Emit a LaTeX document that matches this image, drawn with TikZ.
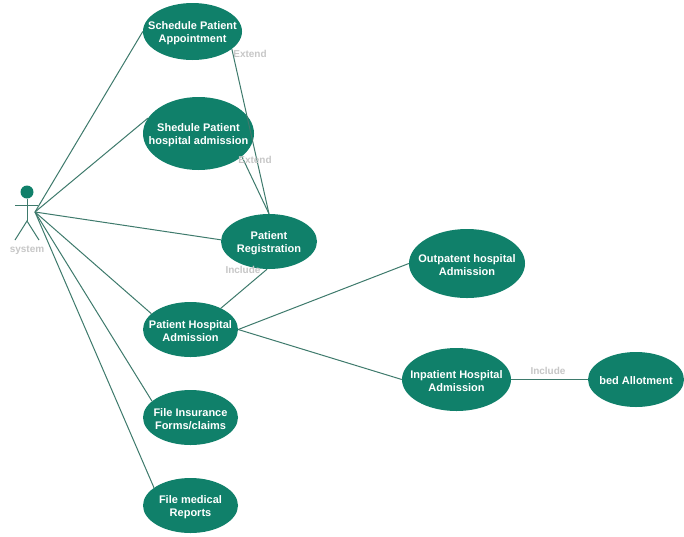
\documentclass[tikz,border=0pt]{standalone}
\usepackage{fontspec}
\setmainfont{Liberation Sans}
\usetikzlibrary{shapes.geometric}
\definecolor{ucgreen}{RGB}{16,128,106}
\definecolor{uclink}{RGB}{62,122,108}
\tikzset{
    uc case/.style={
        ellipse,
        fill=ucgreen,
        text=white,
        align=center,
        inner xsep=-14pt,
        inner ysep=0pt,
        text height=25pt,
        font=\fontsize{11}{13}\selectfont\bfseries
    },
    uc link/.style={uclink, line width=1pt},
    uc label/.style={
        text=black!22,
        inner sep=0pt,
        font=\fontsize{10}{12}\selectfont\bfseries
    }
}
\begin{document}
\begin{tikzpicture}[x=1pt,y=-1pt]
    \useasboundingbox[fill=white] (0,0) rectangle (684,536);

    % actor
    \node[circle, fill=ucgreen, minimum size=13pt, inner sep=0pt] (head) at (27,192) {};
    \coordinate (hip) at (27,221);
    \coordinate (armL) at (15,205);
    \coordinate (armR) at (38,205);
    \coordinate (legL) at (15,240);
    \coordinate (legR) at (39,240);
    \coordinate (hub) at (35,212);
    \draw[uc link] (head) -- (hip);
    \draw[uc link] (armL) -- (armR);
    \draw[uc link] (legL) -- (hip) -- (legR);
    \node[uc label] (actor) at (27,250) {system};

    % use cases
    \node[uc case, minimum width=99pt, minimum height=57pt] (appoint) at (192.5,31.5) {Schedule Patient\\Appointment};
    \node[uc case, minimum width=111pt, minimum height=73pt] (shedule) at (198.5,133.5) {Shedule Patient\\hospital admission};
    \node[uc case, minimum width=96pt, minimum height=55pt] (regist) at (269,241.5) {Patient\\Registration};
    \node[uc case, minimum width=95pt, minimum height=55pt] (hospital) at (190.5,329.5) {Patient Hospital\\Admission};
    \node[uc case, minimum width=95pt, minimum height=55pt] (insure) at (190.5,417.5) {File Insurance\\Forms/claims};
    \node[uc case, minimum width=95pt, minimum height=55pt] (medical) at (190.5,505.5) {File medical\\Reports};
    \node[uc case, minimum width=116pt, minimum height=69pt] (outpat) at (467,263.5) {Outpatent hospital\\Admission};
    \node[uc case, minimum width=109pt, minimum height=63pt] (inpat) at (456.5,379.5) {Inpatient Hospital\\Admission};
    \node[uc case, text height=10pt, minimum width=96pt, minimum height=55pt] (bed) at (636,379.5) {bed Allotment};

    % actor links
    \foreach \p in {appoint.west,shedule.163,regist.178,hospital.158,insure.157,medical.154} {
        \draw[uc link] (hub) -- (\p);
    }

    \draw[uc link] (appoint.-24) -- (regist.north);
    \draw[uc link] (shedule.-28) -- (regist.north);
    \draw[uc link] (regist.-94) -- (hospital.35);
    \draw[uc link] (hospital.east) -- (outpat.west);
    \draw[uc link] (hospital.east) -- (inpat.west);
    \draw[uc link] (inpat.east) -- (bed.west);

    \node[uc label] (ext1) at (250,54) {Extend};
    \node[uc label] (ext2) at (255,160) {Extend};
    \node[uc label] (inc1) at (243,270) {Include};
    \node[uc label] (inc2) at (548,371) {Include};
\end{tikzpicture}
\end{document}
